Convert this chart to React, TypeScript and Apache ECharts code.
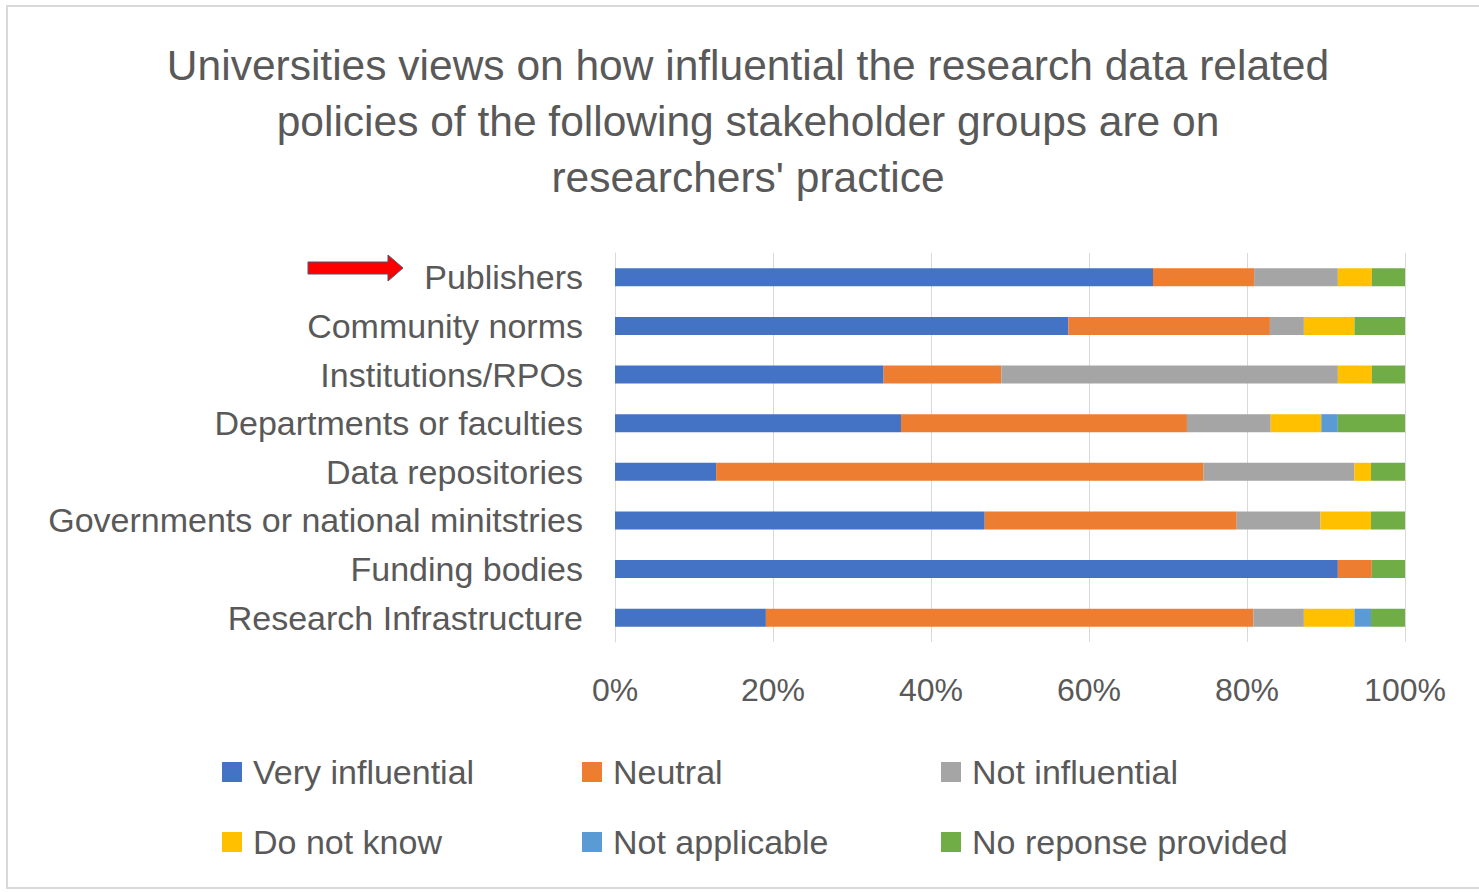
import React, { useEffect, useRef } from "react";
import * as echarts from "echarts";

const categories = [
  "Publishers",
  "Community norms",
  "Institutions/RPOs",
  "Departments or faculties",
  "Data repositories",
  "Governments or national minitstries",
  "Funding bodies",
  "Research Infrastructure",
];

const seriesNames = [
  "Very influential",
  "Neutral",
  "Not influential",
  "Do not know",
  "Not applicable",
  "No reponse provided",
];

const colors = ["#4472C4", "#ED7D31", "#A5A5A5", "#FFC000", "#5B9BD5", "#70AD47"];

// percentages per category (same order as categories)
const veryInfluential = [68.1, 57.4, 34.0, 36.2, 12.8, 46.8, 91.5, 19.1];
const neutral = [12.8, 25.5, 14.9, 36.2, 61.7, 31.9, 4.3, 61.7];
const notInfluential = [10.6, 4.3, 42.6, 10.6, 19.1, 10.6, 0, 6.4];
const doNotKnow = [4.3, 6.4, 4.3, 6.4, 2.1, 6.4, 0, 6.4];
const notApplicable = [0, 0, 0, 2.1, 0, 0, 0, 2.1];
const noResponse = [4.3, 6.4, 4.3, 8.5, 4.3, 4.3, 4.3, 4.3];

const seriesValues = [veryInfluential, neutral, notInfluential, doNotKnow, notApplicable, noResponse];

const xTicks = [0, 20, 40, 60, 80, 100];

const titleLines = [
  "Universities views on how influential the research data related",
  "policies of the following stakeholder groups are on",
  "researchers' practice",
];

const FONT = "'Liberation Sans', Arial, sans-serif";
const TEXT = "#595959";

const legendCols = [217, 577, 936];
const legendRows = [747, 817];

export default function App() {
  const ref = useRef<HTMLDivElement>(null);

  useEffect(() => {
    if (!ref.current) return;
    const chart = echarts.init(ref.current, null, { renderer: "svg" });

    const legends = seriesNames.map((name, i) => ({
      data: [name],
      left: legendCols[i % 3],
      top: legendRows[Math.floor(i / 3)],
      orient: "horizontal",
      icon: "rect",
      itemWidth: 20,
      itemHeight: 20,
      selectedMode: false,
      textStyle: {
        fontFamily: FONT,
        fontSize: 34,
        color: TEXT,
        lineHeight: 40,
        padding: [0, 0, 0, 6],
      },
    }));

    chart.setOption({
      animation: false,
      backgroundColor: "#ffffff",
      color: colors,
      title: {
        text: titleLines.join("\n"),
        left: 743,
        textAlign: "center",
        top: 32,
        textStyle: {
          fontFamily: FONT,
          fontSize: 42.5,
          fontWeight: "normal",
          color: TEXT,
          lineHeight: 56,
        },
      },
      legend: legends,
      grid: {
        left: 615,
        right: 74,
        top: 253,
        bottom: 250,
        containLabel: false,
      },
      xAxis: {
        type: "value",
        min: xTicks[0],
        max: xTicks[xTicks.length - 1],
        interval: 20,
        axisLine: { show: false },
        axisTick: { show: false },
        splitLine: { show: true, lineStyle: { color: "#d9d9d9", width: 1 } },
        axisLabel: {
          formatter: "{value}%",
          fontFamily: FONT,
          fontSize: 32,
          color: TEXT,
          margin: 32,
        },
      },
      yAxis: {
        type: "category",
        inverse: true,
        data: categories,
        axisLine: { show: true, lineStyle: { color: "#d9d9d9" } },
        axisTick: { show: false },
        axisLabel: {
          fontFamily: FONT,
          fontSize: 34,
          color: TEXT,
          margin: 32,
        },
      },
      series: seriesNames.map((name, i) => ({
        name,
        type: "bar",
        stack: "total",
        barWidth: 18,
        data: seriesValues[i],
        itemStyle: { color: colors[i] },
      })),
      graphic: [
        {
          type: "rect",
          shape: { x: 7, y: 6, width: 1490, height: 882 },
          style: { fill: "none", stroke: "#d9d9d9", lineWidth: 2 },
          silent: true,
          z: 100,
        },
        {
          type: "polygon",
          shape: {
            points: [
              [308, 262],
              [388, 262],
              [388, 255],
              [403, 268],
              [388, 281],
              [388, 274],
              [308, 274],
            ],
          },
          style: { fill: "#ff0000", stroke: "#4a5577", lineWidth: 1 },
          z: 100,
        },
      ],
    });

    return () => chart.dispose();
  }, []);

  return (
    <div
      ref={ref}
      style={{ position: "absolute", left: 0, top: 0, width: 1479, height: 892 }}
    />
  );
}
